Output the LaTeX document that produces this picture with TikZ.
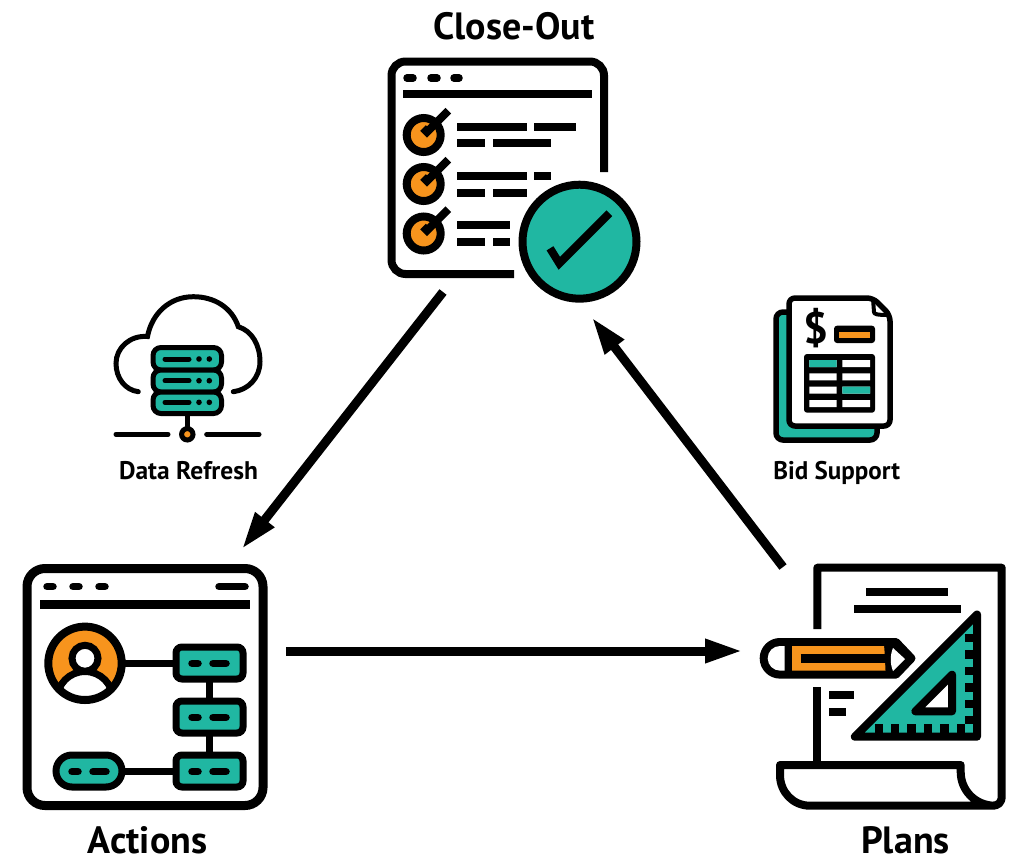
\documentclass[tikz,border=0pt]{standalone}
\usepackage{fontspec}
\setmainfont{PT Sans}
\definecolor{tealc}{HTML}{20B7A2}
\definecolor{orangec}{HTML}{F7941D}
\usetikzlibrary{arrows.meta}
\tikzset{
  ink/.style={line width=8pt,black},
  inkthin/.style={line width=5pt,black,line cap=round},
  pill/.style={line width=7.5pt,black,line cap=round},
  flowbox/.style={line width=7pt,black,fill=tealc,rounded corners=6pt},
  label/.style={inner sep=0pt,anchor=center},
  biglabel/.style={label,font=\bfseries\fontsize{38}{38}\selectfont},
  smalllabel/.style={label,font=\bfseries\fontsize{25.5}{25.5}\selectfont},
  flow/.style={line width=9pt,black,-{Triangle[length=38pt,width=22pt]}},
}
\newcommand{\checkitem}[1]{%
  \draw[ink,fill=orangec] (423.7,#1) circle (17);
  \draw[ink,miter limit=10] (423,#1-7) -- (427,#1-3) -- (448.3,#1-24.3);
}
\newcommand{\rowlines}[4]{%
  \draw[ink] (457,#1) -- (#2,#1) (#3,#1) -- (#4,#1);
}
\newcommand{\flowinner}[1]{%
  \draw[pill] (192,#1) -- (198,#1) (213,#1) -- (226,#1);
}
\newcommand{\serverrow}[1]{%
  \draw[inkthin] (165,#1) -- (189,#1);
  \fill[black] (199,#1) circle (2.8) (209.3,#1) circle (2.8);
}
\begin{document}
\begin{tikzpicture}[x=1pt,y=-1pt]
\useasboundingbox (0,0) rectangle (1012,860);
\fill[white] (0,0) rectangle (1012,860);

% Close-Out window
\draw[ink,rounded corners=14pt] (604,172) -- (604,61.5) -- (391.5,61.5) -- (391.5,274) -- (514,274);
\draw[pill] (407,78) -- (413,78) (431,78) -- (437,78) (454,78) -- (459,78);
\draw[ink] (403,94) -- (592,94);
\checkitem{135}\checkitem{184}\checkitem{233.5}
\rowlines{127}{527}{534}{576}
\rowlines{143}{485}{493}{551}
\rowlines{176}{527}{534}{551}
\rowlines{192.7}{485}{493}{527}
\draw[ink] (457,225) -- (510,225);
\rowlines{241.7}{485}{493}{510}
\draw[ink,fill=tealc] (579.5,241.7) circle (57);
\draw[ink,miter limit=10] (550,248.3) -- (559.3,263.3) -- (609.3,213.3);

% Actions window
\draw[line width=9pt,black,rounded corners=18pt] (27,568.5) rectangle (263,805.5);
\draw[pill] (47,586.7) -- (53,586.7) (73,586.7) -- (79,586.7) (99,586.7) -- (105,586.7) (219,586.7) -- (245,586.7);
\draw[line width=9pt] (40,604.5) -- (250,604.5);
\coordinate (pc) at (85,663.3);
\draw[line width=7pt] (121,663.3) -- (176,663.3) (122,771.7) -- (176,771.7) (209.3,679) -- (209.3,755);
\fill[orangec] (pc) circle (37);
\begin{scope}
  \clip (pc) circle (37);
  \draw[line width=7pt,fill=white] (85,699.5) circle (28);
\end{scope}
\draw[line width=7pt,fill=white] (85,658.3) circle (13);
\draw[ink] (pc) circle (36.7);
\draw[flowbox] (176,647) rectangle (243,679);
\draw[flowbox] (176,701) rectangle (243,733);
\draw[flowbox] (176,755) rectangle (243,787);
\draw[flowbox,rounded corners=16pt] (56,755) rectangle (122,787);
\flowinner{663.3}\flowinner{717.3}\flowinner{771.7}
\draw[pill] (72,771.7) -- (78,771.7) (93,771.7) -- (106,771.7);

% Plans page
\draw[ink,line join=round] (817.3,629) -- (817.3,567.7) -- (1001.7,567.7) -- (1001.7,796) .. controls (1001.7,803) and (998,805.7) .. (992,805.7) -- (810,805.7) .. controls (793,805.7) and (780,792) .. (780,775) -- (780,765) -- (960.7,765) -- (960.7,772) .. controls (960.7,790) and (975,805.7) .. (995,805.7);
\draw[ink] (817.3,687.3) -- (817.3,765);
\draw[ink] (866,592.3) -- (948,592.3) (854,609) -- (960.7,609) (829,695) -- (854,695) (829,711.7) -- (846,711.7);
% set square
\draw[ink,fill=tealc,line join=round] (977,614.5) -- (977,736.7) -- (854.8,736.7) -- cycle;
\foreach \t in {878.7,895,911.5,928,944.3,960.8}{\fill[black] (\t-4.2,724) rectangle (\t+4.2,736);}
\foreach \t in {638,654.5,671,687.5,704,720}{\fill[black] (965,\t-4.2) rectangle (977,\t+4.2);}
\draw[ink,fill=white,line join=round] (952,674.7) -- (952,711.3) -- (915.4,711.3) -- cycle;
% pencil
\draw[ink,fill=black,line join=round] (896,642) -- (780,642) arc (270:90:16.3) -- (896,674.6) -- (911.5,658.3) -- cycle;
\fill[white] (784.5,646) -- (780,646) arc (270:90:12.3) -- (784.5,670.6) -- cycle;
\fill[orangec] (792,646) -- (884,646) .. controls (885,654) and (885,662) .. (885.5,670.6) -- (792,670.6) -- cycle;
\draw[line width=9pt] (800.7,658) -- (886,658);
\fill[white] (893,648) -- (905,659) -- (893,671) .. controls (890,664) and (890,655) .. (893,648) -- cycle;

% Cloud icon
\draw[inkthin] (138.3,391.7) .. controls (125,390) and (116,378) .. (116,363.3) .. controls (116,348) and (130,335) .. (147.5,336.5) .. controls (152,313) and (170,296.7) .. (193.3,296.7) .. controls (215,296.7) and (232,308) .. (238.3,326.7) .. controls (252,331) and (260,345) .. (260,361.7) .. controls (260,378) and (248,390) .. (233.3,391.7);
\draw[inkthin] (187.3,415) -- (187.3,428);
\draw[line width=5pt,black,fill=tealc,rounded corners=8pt] (153,347.5) rectangle (221.5,370);
\draw[line width=5pt,black,fill=tealc,rounded corners=8pt] (153,370) rectangle (221.5,392);
\draw[line width=5pt,black,fill=tealc,rounded corners=8pt] (153,392) rectangle (221.5,413.5);
\serverrow{359}\serverrow{380.7}\serverrow{402.3}
\draw[line width=5pt,black,fill=orangec] (187.3,434.3) circle (5.7);
\draw[inkthin] (116,434.3) -- (168,434.3) (206.7,434.3) -- (259,434.3);

% Bid Support icon
\draw[line width=5.5pt,black,fill=tealc,rounded corners=7pt] (776,312) rectangle (877,440);
\draw[line width=5.5pt,black,fill=white,rounded corners=6pt,line join=round] (873,298) -- (789,298) -- (789,426) -- (890,426) -- (890,315) -- cycle;
\draw[line width=4pt,black,line join=round] (873,299) -- (874,312) .. controls (874,314) and (876,315) .. (889,315);
\fill[black,rounded corners=3pt] (834,325.7) rectangle (875,343);
\fill[orangec] (839.3,331.7) rectangle (870,337.7);
\fill[black,rounded corners=3pt] (804,354) rectangle (875,412.7);
\foreach \y in {360,373.3,386.5,400}{\fill[white] (809.3,\y) rectangle (836.7,\y+7) (842.3,\y) rectangle (870,\y+7);}
\fill[tealc] (809.3,360) rectangle (836.7,367) (842.3,386.5) rectangle (870,393.5);
\node[label,font=\bfseries\fontsize{44}{44}\selectfont] (dollar) at (816,328) {\$};

% Labels
\node[biglabel] (closeout) at (514,26.5) {Close-Out};
\node[biglabel] (actions) at (147.5,840) {Actions};
\node[biglabel] (plans) at (905.5,840) {Plans};
\node[smalllabel] (refresh) at (188.5,471) {Data Refresh};
\node[smalllabel,xscale=0.98] (bid) at (836.7,472.5) {Bid Support};

% Flow arrows
\coordinate (a1) at (443,292);
\coordinate (a2) at (241.5,549.5);
\coordinate (b1) at (286,651);
\coordinate (b2) at (743,651);
\coordinate (c1) at (783,567);
\coordinate (c2) at (591.5,317);
\draw[flow] (a1) -- (a2);
\draw[flow] (b1) -- (b2);
\draw[flow] (c1) -- (c2);
\end{tikzpicture}
\end{document}
